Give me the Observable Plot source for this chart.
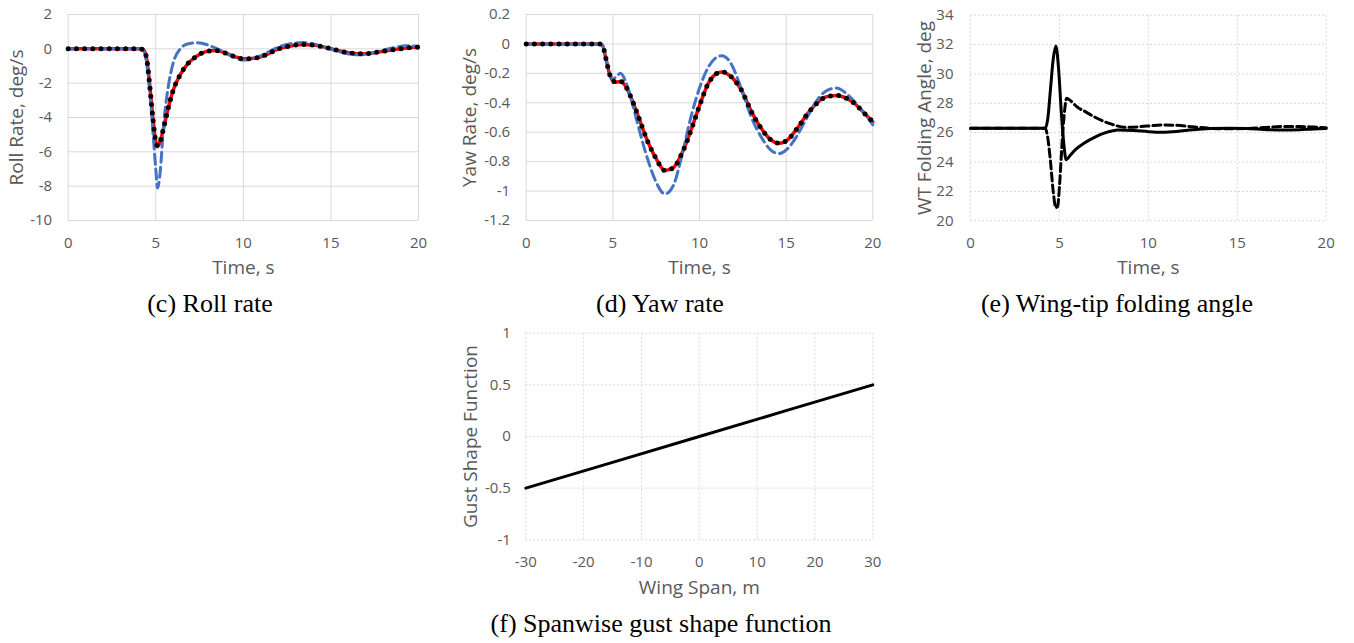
<!DOCTYPE html>
<html><head><meta charset="utf-8">
<script src="https://cdn.jsdelivr.net/npm/d3@7"></script>
<script src="https://cdn.jsdelivr.net/npm/@observablehq/plot@0.6"></script>
<style>
body{margin:0;background:#fff;}
#wrap{position:relative;width:1354px;height:643px;overflow:hidden;background:#fff;}
.panel{position:absolute;}
.cap{position:absolute;width:600px;text-align:center;font-family:"Liberation Serif","Times New Roman",serif;font-size:26px;line-height:26px;color:#000;white-space:nowrap;z-index:5;}
</style></head><body><div id="wrap"></div><script>
// ---------- tick values ----------
const timeTicks = [0, 5, 10, 15, 20];
const rollTicks = [-10, -8, -6, -4, -2, 0, 2];
const yawTicks = [-1.2, -1, -0.8, -0.6, -0.4, -0.2, 0, 0.2];
const foldTicks = [20, 22, 24, 26, 28, 30, 32, 34];
const spanTicks = [-30, -20, -10, 0, 10, 20, 30];
const gustTicks = [-1, -0.5, 0, 0.5, 1];

// ---------- (c) roll rate ----------
const rollTime = [0, 4, 4.3, 4.5, 4.7, 4.85, 5.0, 5.1, 5.25, 5.45, 5.7, 6.0, 6.4, 6.8, 7.3, 7.9, 8.4, 9.0, 9.5, 10.0, 10.6, 11.3, 12.0, 12.7, 13.4, 14.0, 14.7, 15.4, 16.0, 16.6, 17.2, 17.9, 18.6, 19.3, 20];
const rollBlue = [0, 0, -0.1, -1.0, -3.0, -5.0, -7.0, -8.1, -7.2, -4.4, -2.3, -0.8, 0.0, 0.28, 0.35, 0.25, 0.05, -0.25, -0.5, -0.65, -0.55, -0.25, 0.1, 0.3, 0.37, 0.28, 0.08, -0.15, -0.3, -0.35, -0.28, -0.1, 0.07, 0.18, 0.15];
const rollRed = [0, 0, -0.05, -0.7, -2.6, -4.2, -5.4, -5.7, -5.4, -4.6, -3.5, -2.4, -1.5, -0.9, -0.45, -0.15, -0.1, -0.25, -0.45, -0.58, -0.55, -0.35, 0.0, 0.17, 0.25, 0.22, 0.08, -0.1, -0.23, -0.29, -0.27, -0.15, -0.05, 0.05, 0.1];
const rollBlack = [0, 0, -0.05, -0.7, -2.6, -4.2, -5.4, -5.65, -5.4, -4.6, -3.5, -2.4, -1.5, -0.9, -0.45, -0.15, -0.1, -0.25, -0.45, -0.58, -0.55, -0.35, 0.0, 0.17, 0.25, 0.22, 0.08, -0.1, -0.23, -0.29, -0.27, -0.15, -0.05, 0.05, 0.1];

// ---------- (d) yaw rate ----------
const yawTime = [0, 4.2, 4.4, 4.6, 4.8, 5.0, 5.2, 5.45, 5.7, 6.0, 6.4, 7.0, 7.5, 8.0, 8.5, 9.0, 9.5, 10.0, 10.5, 11.0, 11.3, 11.8, 12.4, 13.0, 13.6, 14.1, 14.6, 15.1, 15.6, 16.2, 16.8, 17.3, 17.9, 18.5, 19.0, 19.5, 20];
const yawBlue = [0, 0, -0.01, -0.1, -0.2, -0.24, -0.22, -0.2, -0.245, -0.35, -0.53, -0.78, -0.94, -1.02, -0.96, -0.75, -0.5, -0.3, -0.16, -0.09, -0.08, -0.13, -0.3, -0.5, -0.64, -0.72, -0.745, -0.71, -0.63, -0.5, -0.38, -0.32, -0.3, -0.34, -0.4, -0.47, -0.55];
const yawRed = [0, 0, -0.01, -0.1, -0.2, -0.25, -0.26, -0.255, -0.28, -0.35, -0.47, -0.66, -0.78, -0.86, -0.84, -0.74, -0.59, -0.42, -0.27, -0.2, -0.19, -0.22, -0.31, -0.46, -0.58, -0.65, -0.675, -0.65, -0.58, -0.48, -0.4, -0.36, -0.35, -0.37, -0.41, -0.47, -0.53];
const yawBlack = [0, 0, -0.01, -0.1, -0.2, -0.25, -0.26, -0.255, -0.28, -0.35, -0.47, -0.66, -0.78, -0.86, -0.84, -0.74, -0.59, -0.42, -0.27, -0.2, -0.19, -0.22, -0.31, -0.46, -0.58, -0.65, -0.675, -0.65, -0.58, -0.48, -0.4, -0.36, -0.35, -0.37, -0.41, -0.47, -0.53];

// ---------- (e) wing-tip folding angle ----------
const foldSolidTime = [0, 4.2, 4.35, 4.5, 4.65, 4.8, 4.95, 5.1, 5.25, 5.38, 5.6, 5.9, 6.4, 7.0, 7.6, 8.3, 9.2, 10.0, 10.8, 11.6, 12.5, 13.5, 14.5, 15.5, 16.5, 17.5, 18.5, 19.3, 20];
const foldSolid = [26.3, 26.3, 27.0, 29.0, 31.0, 31.9, 30.4, 27.5, 25.2, 24.15, 24.45, 24.85, 25.3, 25.7, 26.0, 26.18, 26.15, 26.07, 26.03, 26.08, 26.2, 26.28, 26.3, 26.28, 26.22, 26.18, 26.2, 26.25, 26.28];
const foldDashTime = [0, 4.2, 4.35, 4.5, 4.65, 4.8, 4.9, 5.0, 5.1, 5.2, 5.3, 5.4, 5.6, 6.0, 6.5, 7.0, 7.8, 8.8, 9.9, 10.8, 11.6, 12.5, 13.5, 14.5, 15.5, 16.5, 17.5, 18.5, 19.3, 20];
const foldDash = [26.3, 26.3, 25.6, 24.0, 22.0, 20.9, 21.0, 22.3, 24.3, 26.2, 27.6, 28.35, 28.2, 27.75, 27.4, 27.05, 26.63, 26.36, 26.45, 26.52, 26.5, 26.4, 26.3, 26.27, 26.28, 26.35, 26.42, 26.42, 26.38, 26.33];

// ---------- (f) spanwise gust shape ----------
const span = [-30, -15, 0, 15, 30];
const gustShape = [-0.5, -0.25, 0, 0.25, 0.5];

const fmt = d => String(Math.round(d * 10) / 10);
const GRAY = "#595959";

function panel(cfg) {
  const grid = {stroke: "#d9d9d9", strokeOpacity: 1, strokeWidth: 1};
  if (cfg.gridDash) grid.strokeDasharray = cfg.gridDash;
  const svg = Plot.plot({
    width: cfg.width, height: cfg.height,
    marginLeft: cfg.ml, marginRight: cfg.mr, marginTop: cfg.mt, marginBottom: cfg.mb,
    x: {domain: cfg.xDomain},
    y: {domain: cfg.yDomain},
    style: {fontFamily: '"Open Sans", sans-serif', color: GRAY, background: "transparent", overflow: "visible"},
    marks: [
      Plot.gridX(cfg.xTicks, grid),
      Plot.gridY(cfg.yTicks, grid),
      Plot.axisX(cfg.xTicks, {tickSize: 0, tickPadding: 17, fontSize: 15, tickFormat: fmt, label: null, fill: GRAY}),
      Plot.axisY(cfg.yTicks, {tickSize: 0, tickPadding: cfg.yPad, fontSize: 15, tickFormat: fmt, label: null, fill: GRAY}),
      Plot.text([cfg.xLabel], {text: d => d, frameAnchor: "bottom", textAnchor: "middle", lineAnchor: "top", dy: cfg.xLabelDy, fontSize: 19, fill: GRAY}),
      Plot.text([cfg.yLabel], {text: d => d, frameAnchor: "left", textAnchor: "middle", lineAnchor: "middle", rotate: -90, dx: cfg.yLabelDx, fontSize: 19, fill: GRAY}),
      ...cfg.marks
    ]
  });
  svg.classList.add("panel");
  svg.style.left = cfg.left + "px";
  svg.style.top = cfg.top + "px";
  return svg;
}

const blueOpt = {stroke: "#4472C4", strokeWidth: 3, strokeDasharray: "10,5", curve: "monotone-x"};
const redOpt = {stroke: "#ff0000", strokeWidth: 3.5, curve: "monotone-x"};
const dotOpt = {stroke: "#000", strokeWidth: 5, strokeDasharray: "0,8.2", strokeLinecap: "round", curve: "monotone-x"};

const wrap = document.getElementById("wrap");

wrap.appendChild(panel({
  left: 0, top: 0, width: 440, height: 290, ml: 67.7, mr: 22, mt: 14, mb: 70,
  xDomain: [0, 20], yDomain: [-10, 2], xTicks: timeTicks, yTicks: rollTicks, yPad: 16,
  xLabel: "Time, s", yLabel: "Roll Rate, deg/s", xLabelDy: 40, yLabelDx: -51.7,
  marks: [
    Plot.line(rollTime, {x: rollTime, y: rollRed, ...redOpt}),
    Plot.line(rollTime, {x: rollTime, y: rollBlue, ...blueOpt}),
    Plot.line(rollTime, {x: rollTime, y: rollBlack, ...dotOpt})
  ]
}));

wrap.appendChild(panel({
  left: 440, top: 0, width: 450, height: 290, ml: 85.7, mr: 17.7, mt: 14, mb: 70,
  xDomain: [0, 20], yDomain: [-1.2, 0.2], xTicks: timeTicks, yTicks: yawTicks, yPad: 16,
  xLabel: "Time, s", yLabel: "Yaw Rate, deg/s", xLabelDy: 40, yLabelDx: -56,
  marks: [
    Plot.line(yawTime, {x: yawTime, y: yawRed, ...redOpt}),
    Plot.line(yawTime, {x: yawTime, y: yawBlue, ...blueOpt}),
    Plot.line(yawTime, {x: yawTime, y: yawBlack, ...dotOpt})
  ]
}));

wrap.appendChild(panel({
  left: 900, top: 0, width: 454, height: 290, ml: 70, mr: 28.3, mt: 14.7, mb: 69.7,
  xDomain: [0, 20], yDomain: [20, 34], xTicks: timeTicks, yTicks: foldTicks, yPad: 17, gridDash: "2,2",
  xLabel: "Time, s", yLabel: "WT Folding Angle, deg", xLabelDy: 40, yLabelDx: -45.5,
  marks: [
    Plot.line(foldSolidTime, {x: foldSolidTime, y: foldSolid, stroke: "#000", strokeWidth: 3, curve: "monotone-x"}),
    Plot.line(foldDashTime, {x: foldDashTime, y: foldDash, stroke: "#000", strokeWidth: 3, strokeDasharray: "8,4", curve: "monotone-x"})
  ]
}));

wrap.appendChild(panel({
  left: 420, top: 310, width: 480, height: 300, ml: 105.3, mr: 27.7, mt: 22.7, mb: 70.7,
  xDomain: [-30, 30], yDomain: [-1, 1], xTicks: spanTicks, yTicks: gustTicks, yPad: 15, gridDash: "2,2",
  xLabel: "Wing Span, m", yLabel: "Gust Shape Function", xLabelDy: 41, yLabelDx: -55,
  marks: [
    Plot.line(span, {x: span, y: gustShape, stroke: "#000", strokeWidth: 3})
  ]
}));

const captions = [
  ["(c) Roll rate", 210, 291],
  ["(d) Yaw rate", 660, 291],
  ["(e) Wing-tip folding angle", 1117, 291],
  ["(f) Spanwise gust shape function", 661, 611]
];
for (const [t, cx, top] of captions) {
  const d = document.createElement("div");
  d.className = "cap";
  d.textContent = t;
  d.style.left = (cx - 300) + "px";
  d.style.top = top + "px";
  wrap.appendChild(d);
}
</script></body></html>
